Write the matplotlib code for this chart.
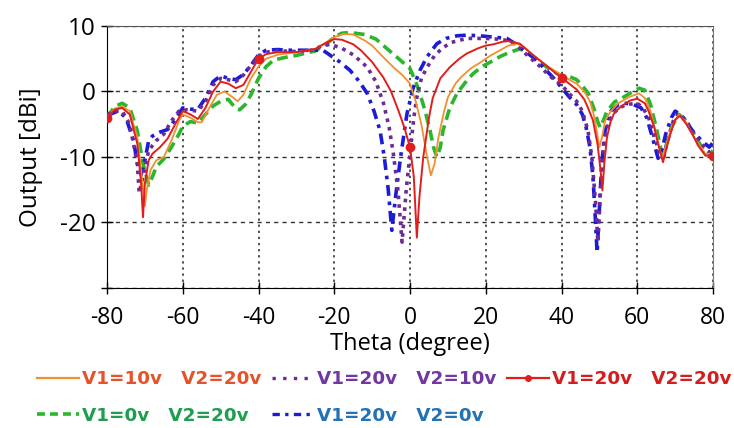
import numpy as np
import matplotlib
matplotlib.use("Agg")
import matplotlib.pyplot as plt
from matplotlib.lines import Line2D

plt.rcParams["axes.unicode_minus"] = False

# ------------------------------------------------------------
# 数据：方向图 (Theta, dBi)
# ------------------------------------------------------------
theta_red = [-80, -78, -76, -74, -72, -71, -70.5, -70, -69, -68, -66, -64, -62, -60,
             -58, -56, -54, -52, -50, -48, -46, -44, -42, -40, -38, -35, -30, -25,
             -22, -20, -18, -15, -13, -10, -7, -5, -3, -1.5, 0, 1, 1.8, 2.5, 3.5, 4,
             5, 6, 8, 10.5, 13, 15, 18, 20, 22, 24.5, 26, 29, 32, 35, 38, 40, 42, 44,
             46, 47, 48.3, 49.5, 50.3, 50.8, 51.3, 52, 53, 54, 55.5, 58, 60, 62, 63,
             64.5, 65.5, 66.8, 68, 69, 70, 71.3, 73, 75, 76, 78, 80]
gain_red = [-4.1, -2.8, -2.5, -3.5, -8, -14, -19.2, -14, -10.5, -9.5, -8.5, -7.2, -5, -3,
            -3.5, -4.2, -2.5, 0, 1.5, 1.2, 0.5, 1, 3, 5, 5.7, 6.0, 6.0, 6.5,
            7.5, 8.0, 7.9, 7.2, 6.3, 4.5, 2.1, 0, -3, -5.5, -8.5, -13, -22.3, -16, -10, -8,
            -4, -1, 2, 3.7, 5, 5.8, 6.6, 7.0, 7.2, 7.6, 7.7, 7.3, 5.8, 4.4, 3.0, 2.1, 1.2, 0.3,
            -1.2, -2.5, -4.4, -8, -12, -15.1, -11, -7, -4.5, -3.2, -2.4, -1.4, -1.1, -1.8, -3,
            -5.5, -8, -10.8, -8, -6, -4.3, -3.7, -5, -7, -8.2, -9.8, -9.8]

theta_orange = [-80, -78, -76, -74, -72, -71, -70, -69.5, -68.5, -67, -65, -63, -61, -60,
                -58, -56, -55, -53, -51, -49, -47, -45.5, -44, -42, -40, -38, -35, -30,
                -25, -22, -20, -17.5, -15, -12, -10, -7, -4, -2, 0, 1.5, 3, 4.5, 5.5,
                6.5, 7.5, 9, 10, 12, 13.5, 16, 18.5, 21, 23.8, 26, 28.2, 30, 33, 36, 40,
                43, 44, 46, 47.5, 48.5, 49.3, 50, 50.7, 51.5, 53, 55, 58, 60.5, 62, 63.5,
                65, 66.5, 67.5, 69, 71, 73, 75.5, 78, 80]
gain_orange = [-4.2, -2.6, -2.3, -3, -7, -12, -17.5, -15, -12, -10.5, -10, -7.5, -4.5, -3.5,
               -4, -4.7, -4.7, -2.5, -0.5, 0, -0.8, -1.5, -0.5, 2, 3.8, 5, 5.6, 6.0,
               6.5, 7.5, 8.3, 8.8, 8.7, 7.8, 7, 5.2, 3.5, 2.5, 1.2, -1.5, -5, -10, -12.8,
               -11, -7, -3, -0.9, 1.2, 2.2, 3.5, 4.4, 5.4, 6.3, 7, 7.3, 6.8, 5.3, 4, 2.5,
               1.5, 1.2, 0, -1.5, -3.5, -6, -8.5, -7, -4.5, -3, -1.8, -0.8, -0.3, -1, -3,
               -6.5, -10.2, -8.5, -5.5, -3.5, -4.8, -7.5, -9.5, -9.5]

theta_green = [-80, -78, -76, -74, -72, -70.5, -69, -68, -67, -65, -63, -61, -60, -58,
               -56, -54, -52, -50, -48, -46, -45, -43.5, -42, -40, -38, -36, -33, -30,
               -25, -22, -20, -18, -15.8, -12, -9, -6, -3, 0, 1.5, 2.6, 4, 5.3, 6.2,
               7.1, 8, 8.7, 10.5, 12.4, 14.5, 16.6, 19, 21.9, 24, 26.4, 29, 31, 34, 37,
               40, 42, 44, 46, 47, 48.5, 49.5, 50.2, 51, 52, 54, 56, 58, 60.5, 62, 63.5,
               65, 66.5, 67.5, 69, 71, 73, 75, 77, 79, 80]
gain_green = [-4, -2.3, -1.8, -2.5, -6, -11, -14.3, -13, -11.5, -10.3, -8.5, -6.5, -5.3, -4.6,
              -4.8, -3.5, -2.2, -1.5, -1.2, -2.6, -2.8, -2, -0.5, 2, 3.8, 4.8, 5.2, 5.5,
              6.2, 7.3, 8.3, 8.9, 9.0, 8.7, 8, 6.5, 5, 3.5, 1.5, -0.3, -3, -6, -8.5,
              -10, -8.5, -6, -2.5, -0.3, 1.3, 2.7, 3.8, 4.7, 5.4, 6.0, 6.5, 6.0, 4.7, 3.3,
              2.4, 2.3, 1.8, 0.5, -0.2, -2.5, -4.5, -5.5, -4.5, -3, -1.6, -1, -0.3, 0.5, 0.2, -2,
              -5.5, -9.5, -8.5, -5.5, -3.5, -4.5, -6.5, -8.5, -9.7, -9]

theta_purple = [-80, -78, -76, -74, -72, -71.5, -70.5, -69, -67, -65, -63, -61, -59, -56,
                -54, -52, -50, -48, -46, -44, -42, -40, -38, -35, -30, -26, -23, -21,
                -18, -15, -13, -11.3, -9, -7, -5.5, -4.4, -3.2, -2.1, -1, 0, 1, 1.8, 3,
                4.5, 6.5, 8.7, 11, 15, 20, 23, 25.6, 28, 31, 34, 37, 40, 42, 44, 45.5,
                47, 48, 49, 49.6, 50.3, 51, 52, 53.5, 55, 57, 60, 61.5, 63, 64.5, 66, 67,
                68, 69.5, 71, 73, 75, 77, 79, 80]
gain_purple = [-3.5, -3, -3, -5, -11, -15.5, -13, -9, -7.5, -6.5, -4.5, -3, -2.8, -3,
               -1.5, 1, 2, 1.8, 1.5, 2.5, 4, 5.3, 6, 6.2, 6.1, 6.3, 7, 7.2,
               6.6, 5.6, 4.6, 3.7, 1.5, -1.8, -5.5, -9.5, -15, -23, -15, -9.5, -4, -0.9, 2,
               3.7, 5.5, 6.7, 7.5, 8.1, 8.1, 8.0, 7.8, 7.2, 5.5, 4, 2.3, 1, -0.3, -1.5, -3,
               -6, -10, -17, -23, -15, -9, -5.5, -3.5, -2.6, -2, -1.8, -2.5, -4, -7, -9.5, -10,
               -7.5, -4.5, -3.3, -4.5, -6.5, -8, -9.3, -8.8]

theta_blue = [-80, -78, -77, -75, -73, -72, -71, -70, -69, -68, -66, -64, -62, -60, -58,
              -56, -54, -52, -50, -48, -46, -44, -42, -40, -38, -35, -32, -29, -25, -23,
              -21, -18.5, -15.8, -13.5, -11.3, -9.5, -7.9, -6.8, -5.8, -4.8, -3.8, -2.6,
              -1.6, -0.8, 0.8, 2.6, 4.5, 7.1, 9.5, 12.4, 15, 18.5, 22, 25.6, 28, 30, 32.5,
              35, 38, 40, 42, 44, 45.5, 46.5, 47.5, 48.3, 48.8, 49.4, 50, 50.6, 51.5, 53,
              55, 57, 59, 61, 62.5, 64, 65.5, 66.5, 67.5, 69, 70, 71.5, 73, 75, 77, 79, 80]
gain_blue = [-3.7, -3.2, -3, -4, -7.5, -11, -12.7, -10.5, -7.5, -6.8, -6.2, -5.8, -4.3, -2.5, -2.7,
             -2.7, -1, 1.5, 2.4, 2, 1.8, 2.6, 4, 5.6, 6.3, 6.4, 6.3, 6.3, 6.3, 6.3,
             5.5, 4.5, 3.2, 1.6, -0.3, -3, -6, -10, -14.7, -21.2, -16, -10.5,
             -6.5, -3.4, 0.5, 3.2, 5.3, 7.3, 8.1, 8.5, 8.6, 8.5, 8.3, 8.1, 7.2, 6.3, 5.2,
             3.8, 2, 0.6, -0.8, -2, -3.5, -5.5, -8.5, -13, -18, -24.6, -18, -11, -6, -3,
             -2, -1.8, -2, -2.5, -4, -7, -10.2, -9, -6.5, -4, -3, -3.5, -4.8, -6.3, -7.5, -8.5, -7.8]

x_ticks = [-80, -60, -40, -20, 0, 20, 40, 60, 80]
y_ticks = [-30, -20, -10, 0, 10]
y_tick_labels = ["", "-20", "-10", "0", "10"]
red_marker_theta = [-80, -40, 0, 40, 80]

labels = ["V1=10v   V2=20v", "V1=20v   V2=10v", "V1=20v   V2=20v",
          "V1=0v   V2=20v", "V1=20v   V2=0v"]

# ------------------------------------------------------------
# 画图
# ------------------------------------------------------------
fig = plt.figure(figsize=(7.34, 4.28), dpi=100)
ax = fig.add_axes([0.1458, 0.3271, 0.8256, 0.6122])

h_green, = ax.plot(theta_green, gain_green, color="#2DB52D", lw=2.6,
                   linestyle=(0, (3, 1.6)), zorder=2)
h_blue, = ax.plot(theta_blue, gain_blue, color="#1C1CD6", lw=2.6,
                  linestyle=(0, (3, 1.6, 1, 1.6)), zorder=3)
h_purple, = ax.plot(theta_purple, gain_purple, color="#6E2A96", lw=2.6,
                    linestyle=(0, (1, 1.4)), zorder=4)
h_orange, = ax.plot(theta_orange, gain_orange, color="#F0902E", lw=1.3, zorder=5)

mark_idx = [i for i, t in enumerate(theta_red) if t in red_marker_theta]
h_red, = ax.plot(theta_red, gain_red, color="#E01E1E", lw=1.4, marker="o", ms=6,
                 markevery=mark_idx, zorder=6)

ax.set_xlim(-80, 80)
ax.set_ylim(-30, 10)
ax.set_xticks(x_ticks)
ax.set_yticks(y_ticks)
ax.set_yticklabels(y_tick_labels)

for lab in ax.get_xticklabels():
    lab.set_fontfamily("Open Sans")
    lab.set_fontsize(16.5)
for lab in ax.get_yticklabels():
    lab.set_fontfamily("Open Sans")
    lab.set_fontsize(17.5)

ax.tick_params(axis="both", direction="inout", length=8, width=1, color="black")
ax.tick_params(axis="x", pad=9)
ax.tick_params(axis="y", pad=4)
ax.set_xlabel("Theta (degree)", fontsize=17, family="Open Sans", va="center")
ax.set_ylabel("Output [dBi]", fontsize=17.5, family="Open Sans", va="center")
ax.xaxis.set_label_coords(0.5, -0.215)
ax.yaxis.set_label_coords(-0.125, 0.5)

ax.xaxis.grid(True, color="#222222", linestyle=(0, (1.5, 2.5)), lw=1.1)
ax.yaxis.grid(True, color="#333333", linestyle=(0, (3, 3)), lw=1.0)
ax.set_axisbelow(True)

ax.spines["left"].set_color("black")
ax.spines["bottom"].set_color("black")
ax.spines["top"].set_color("#555555")
ax.spines["right"].set_color("#777777")

# 图例：两行，颜色与曲线文字一致
leg_labels = [labels[0], labels[3], labels[1], labels[4], labels[2]]
text_colors = ["#E5532A", "#1E9E4E", "#7038A0", "#2272B4", "#D21E1E"]

leg_handles = [
    Line2D([], [], color="#F0902E", lw=1.6),
    Line2D([], [], color="#2DB52D", lw=2.6, linestyle=(0, (2.2, 1.4))),
    Line2D([], [], color="#6E2A96", lw=2.4, linestyle=(0, (1, 2.2))),
    Line2D([], [], color="#1C1CD6", lw=2.4, linestyle=(0, (2.2, 1.6, 1, 1.6))),
    Line2D([], [], color="#E01E1E", lw=1.6, marker="o", ms=4),
]

leg = fig.legend(leg_handles, leg_labels, ncol=3, loc="upper left",
                 bbox_to_anchor=(0.05, 0.135), frameon=False,
                 prop={"family": "DejaVu Sans", "weight": "bold", "size": 13.2},
                 handlelength=2.3, handletextpad=0.15, columnspacing=0.6,
                 labelspacing=1.0, borderaxespad=0, borderpad=0)
for txt, c in zip(leg.get_texts(), text_colors):
    txt.set_color(c)

fig.savefig("out.png", dpi=100)
plt.close(fig)
